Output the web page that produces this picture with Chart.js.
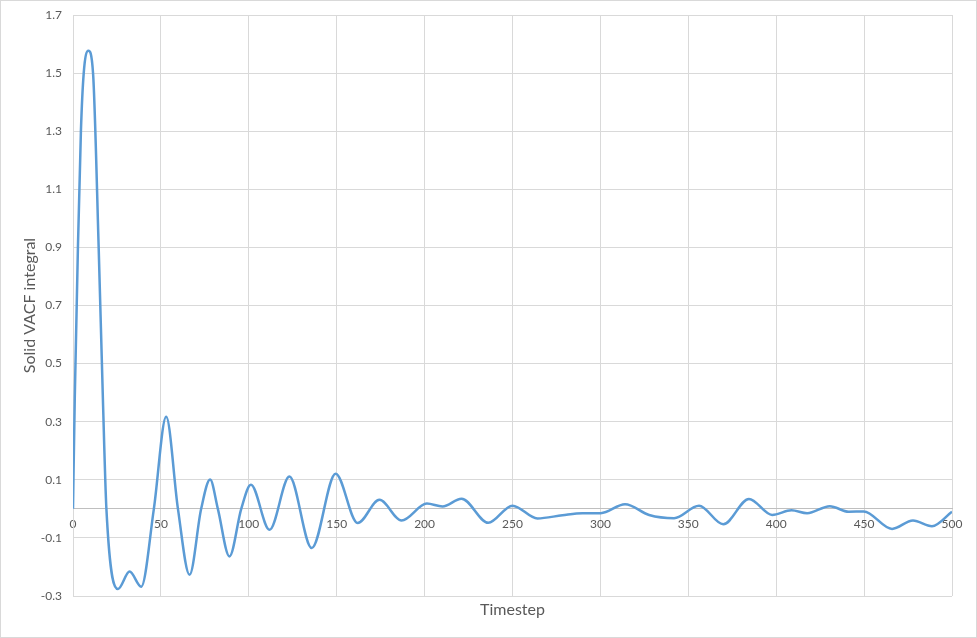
<!DOCTYPE html>
<html lang="en">
<head>
<meta charset="UTF-8">
<title>Solid VACF integral</title>
<script src="https://cdn.jsdelivr.net/npm/chart.js"></script>
<style>
  html, body { margin: 0; padding: 0; background: #fff; }
  canvas { display: block; }
</style>
</head>
<body>
<canvas id="chart" width="977" height="638"></canvas>
<script>
// values
const timesteps = [0, 1, 2.8, 4.5, 6.1, 8.75, 11.4, 14.6, 17, 19, 25.6, 32.2, 38.8, 46, 53, 59.7, 66.3, 72.9, 78, 82.4, 89, 95.7, 101.2, 111.8, 123.1, 135.8, 149.4, 161.9, 174.3, 186.9, 201.3, 210.2, 221, 236.2, 250, 264.2, 278.4, 289.8, 300.2, 314, 327.7, 341.9, 356.1, 369.9, 384.5, 397.7, 408.7, 417.6, 430.5, 441.3, 449.8, 465.9, 477.8, 488.6, 500];
const vacf = [0, 0.38, 0.9, 1.3, 1.5, 1.577, 1.5, 0.9, 0.38, 0, -0.276, -0.216, -0.268, 0, 0.317, 0, -0.227, 0, 0.101, 0, -0.164, 0, 0.083, -0.072, 0.111, -0.135, 0.121, -0.049, 0.031, -0.040, 0.018, 0.008, 0.035, -0.048, 0.011, -0.033, -0.022, -0.015, -0.015, 0.016, -0.021, -0.032, 0.011, -0.053, 0.034, -0.021, -0.005, -0.015, 0.009, -0.010, -0.009, -0.069, -0.040, -0.060, -0.01];
const yTicks = [-0.3, -0.1, 0.1, 0.3, 0.5, 0.7, 0.9, 1.1, 1.3, 1.5, 1.7];
const xTitle = 'Timestep';
const yTitle = 'Solid VACF integral';

const textColor = '#595959';
const gridColor = '#d9d9d9';
const fontFamily = 'Lato, "Open Sans", sans-serif';

// chart frame + x axis title (axis sits on y = 0, so title is drawn here)
const frame = {
  id: 'frame',
  beforeDraw(chart) {
    const ctx = chart.ctx;
    ctx.save();
    ctx.fillStyle = '#fff';
    ctx.fillRect(0, 0, chart.width, chart.height);
    ctx.strokeStyle = gridColor;
    ctx.lineWidth = 1;
    ctx.strokeRect(0.5, 0.5, chart.width - 1, chart.height - 1);
    ctx.restore();
  },
  afterDraw(chart) {
    const a = chart.chartArea, ctx = chart.ctx;
    ctx.save();
    ctx.fillStyle = textColor;
    ctx.font = '16px ' + fontFamily;
    ctx.textAlign = 'center';
    ctx.textBaseline = 'middle';
    ctx.fillText(xTitle, (a.left + a.right) / 2, a.bottom + 14);
    ctx.restore();
  }
};

new Chart(document.getElementById('chart'), {
  type: 'scatter',
  data: {
    datasets: [{
      data: timesteps.map((t, i) => ({ x: t, y: vacf[i] })),
      showLine: true,
      borderColor: '#5b9bd5',
      borderWidth: 2.5,
      pointRadius: 0,
      cubicInterpolationMode: 'monotone'
    }]
  },
  options: {
    responsive: false,
    animation: false,
    layout: { padding: { top: 15, right: 25, bottom: 42, left: 0 } },
    plugins: { legend: { display: false }, tooltip: { enabled: false } },
    scales: {
      x: {
        type: 'linear',
        position: { y: 0 },
        min: 0, max: 500,
        afterFit: s => { s.paddingTop = 0; s.paddingBottom = 0; },
        grid: { color: gridColor, drawTicks: false },
        border: { color: '#bfbfbf', width: 1 },
        ticks: {
          stepSize: 50, autoSkip: false, maxRotation: 0, padding: 8,
          color: textColor, font: { family: fontFamily, size: 12 }
        }
      },
      y: {
        min: -0.3, max: 1.7,
        afterBuildTicks: s => { s.ticks = yTicks.map(v => ({ value: v })); },
        afterFit: s => { s.width = 73; s.paddingTop = 0; s.paddingBottom = 0; },
        grid: { color: gridColor, drawTicks: false },
        border: { color: gridColor },
        ticks: {
          padding: 11, color: textColor, font: { family: fontFamily, size: 12 },
          callback: v => v.toFixed(1)
        },
        title: {
          display: true, text: yTitle, color: textColor,
          font: { family: fontFamily, size: 16 }, padding: { top: 20 }
        }
      }
    }
  },
  plugins: [frame]
});
</script>
</body>
</html>
